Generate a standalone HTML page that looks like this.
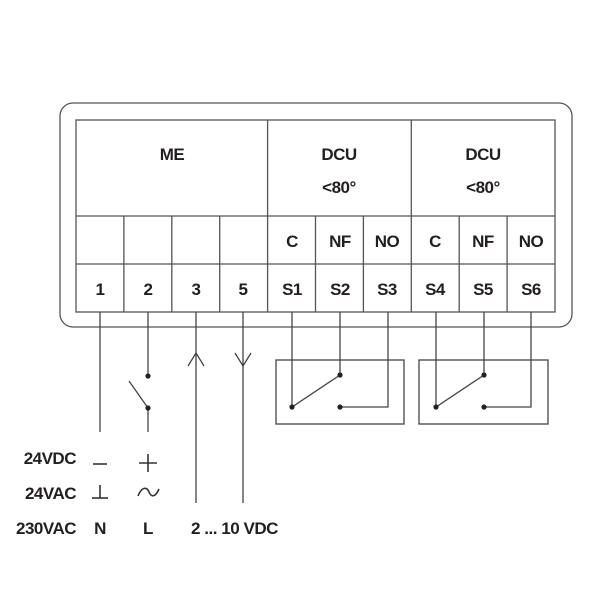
<!DOCTYPE html>
<html><head><style>
html,body{margin:0;padding:0;background:#fff;}
svg text{font-family:"Liberation Sans Narrow","Liberation Sans",sans-serif;font-weight:bold;fill:#231f20;letter-spacing:-0.5px;}
</style></head><body>
<svg width="600" height="600" viewBox="0 0 600 600" xmlns="http://www.w3.org/2000/svg">
<g fill="none" stroke="#555" stroke-width="1.3">
<rect x="60" y="103" width="512" height="224" rx="13"/>
<rect x="76" y="120" width="479" height="192"/>
<line x1="76" y1="216" x2="555" y2="216"/>
<line x1="76" y1="264" x2="555" y2="264"/>
<line x1="267.6" y1="120" x2="267.6" y2="312"/>
<line x1="411.3" y1="120" x2="411.3" y2="312"/>
<line x1="123.9" y1="216" x2="123.9" y2="312"/>
<line x1="171.8" y1="216" x2="171.8" y2="312"/>
<line x1="219.7" y1="216" x2="219.7" y2="312"/>
<line x1="315.5" y1="216" x2="315.5" y2="312"/>
<line x1="363.4" y1="216" x2="363.4" y2="312"/>
<line x1="459.2" y1="216" x2="459.2" y2="312"/>
<line x1="507.1" y1="216" x2="507.1" y2="312"/>
</g>
<g fill="none" stroke="#444" stroke-width="1.3">
<line x1="100" y1="312" x2="100" y2="432"/>
<line x1="148" y1="312" x2="148" y2="376"/>
<line x1="148" y1="408" x2="148" y2="432"/>
<line x1="129" y1="381" x2="148" y2="408"/>
<line x1="196" y1="312" x2="196" y2="503"/>
<polyline points="188,366 196,353 204,366"/>
<line x1="243" y1="312" x2="243" y2="503"/>
<polyline points="235,353 243,366 251,353"/>
<rect x="276" y="360" width="128" height="64"/>
<rect x="419" y="360" width="129" height="64"/>
<polyline points="292,312 292,407 340,375 340,312"/>
<polyline points="388,312 388,407 340,407"/>
<polyline points="436,312 436,407 484,375 484,312"/>
<polyline points="531,312 531,407 484,407"/>
</g>
<g fill="#222">
<circle cx="148" cy="376" r="2.6"/><circle cx="148" cy="408" r="2.6"/>
<circle cx="292" cy="407" r="2.6"/><circle cx="340" cy="375" r="2.6"/><circle cx="340" cy="407" r="2.6"/>
<circle cx="436" cy="407" r="2.6"/><circle cx="484" cy="375" r="2.6"/><circle cx="484" cy="407" r="2.6"/>
</g>
<g font-size="17" text-anchor="middle">
<text x="172" y="160">ME</text>
<text x="339" y="160">DCU</text>
<text x="339" y="193">&lt;80°</text>
<text x="483" y="160">DCU</text>
<text x="483" y="193">&lt;80°</text>
<text x="292" y="247">C</text><text x="340" y="247">NF</text><text x="387" y="247">NO</text>
<text x="435" y="247">C</text><text x="483" y="247">NF</text><text x="531" y="247">NO</text>
<text x="100" y="295">1</text><text x="148" y="295">2</text><text x="196" y="295">3</text><text x="243" y="295">5</text>
<text x="292" y="295">S1</text><text x="340" y="295">S2</text><text x="387" y="295">S3</text>
<text x="435" y="295">S4</text><text x="483" y="295">S5</text><text x="531" y="295">S6</text>
<text x="100" y="534">N</text><text x="148" y="534">L</text>
</g>
<g font-size="17" text-anchor="end">
<text x="76" y="464">24VDC</text>
<text x="76" y="499">24VAC</text>
<text x="76" y="534">230VAC</text>
</g>
<text x="191" y="534" font-size="17" textLength="87" lengthAdjust="spacingAndGlyphs">2 ... 10 VDC</text>
<g fill="none" stroke="#333" stroke-width="1.6">
<line x1="93" y1="464" x2="107" y2="464"/>
<line x1="139" y1="463" x2="157" y2="463"/><line x1="148" y1="454" x2="148" y2="472"/>
<line x1="92" y1="498" x2="108" y2="498"/><line x1="100" y1="485" x2="100" y2="498"/>
<path d="M138,496 C142,486 147,487 149,492 C151,497 155,498 159,489"/>
</g>
</svg>
</body></html>
